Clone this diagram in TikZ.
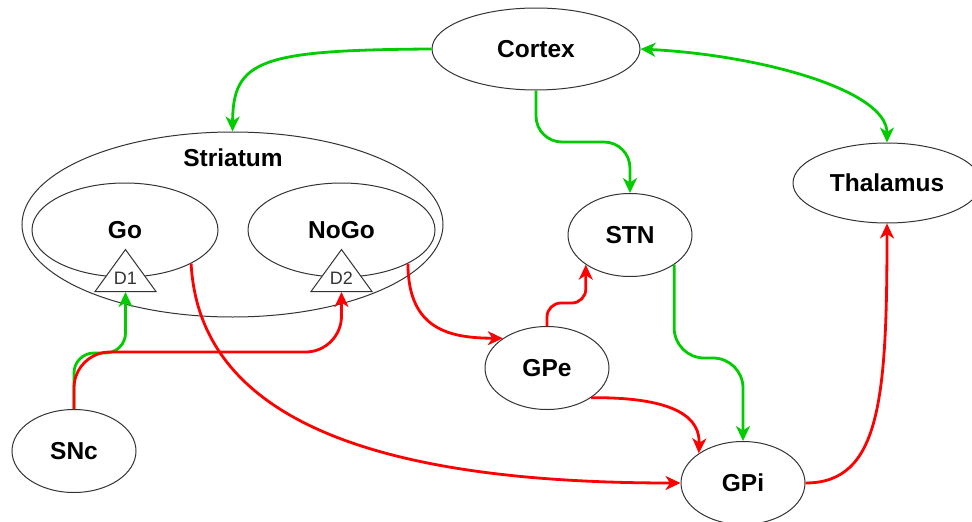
\documentclass[tikz,border=0pt]{standalone}
\usepackage{fontspec}
\setmainfont{Liberation Sans}
\usepackage{tikz}
\usetikzlibrary{arrows.meta, positioning, shapes.geometric}
\definecolor{cGreen}{HTML}{00CC00}
\definecolor{cRed}{HTML}{FF0000}
\definecolor{cLine}{HTML}{333333}

\begin{document}
\begin{tikzpicture}[
    x=1pt, y=-1pt,
    >={Stealth[length=15pt, width=14pt, inset=4.5pt]},
    area/.style={draw=cLine, line width=1pt, ellipse, inner sep=0pt,
                 minimum width=124pt, minimum height=83pt,
                 font=\bfseries\fontsize{24.5}{29}\selectfont},
    rcpt/.style={draw=cLine, line width=1pt, fill=white,
                 isosceles triangle, shape border rotate=90,
                 isosceles triangle stretches, isosceles triangle apex angle=72,
                 minimum width=61pt, minimum height=42pt, inner sep=0pt},
    rlbl/.style={font=\fontsize{18}{20}\selectfont, text=black!80, inner sep=0pt},
    exc/.style={->, draw=cGreen, line width=2.8pt},
    inh/.style={->, draw=cRed, line width=2.8pt},
  ]
  \useasboundingbox (0,0) rectangle (972,522);

  % ── REGIONS ──
  \node[area, minimum width=208pt, minimum height=82pt] (cortex) at (536,49) {Cortex};
  \node[area, minimum width=421pt, minimum height=185pt] (striatum) at (232.5,224.5) {};
  \node[font=\bfseries\fontsize{24.5}{29}\selectfont] (strlbl) at (233,158) {Striatum};
  \node[area, minimum width=186pt, minimum height=94pt] (go) at (125,230) {Go};
  \node[area, minimum width=187pt, minimum height=94pt] (nogo) at (341.5,230) {NoGo};
  \node[area, minimum width=188pt, minimum height=80pt] (thal) at (887,183) {Thalamus};
  \node[area] (stn) at (630,235) {STN};
  \node[area] (gpe) at (547,368) {GPe};
  \node[area] (gpi) at (743,483) {GPi};
  \node[area] (snc) at (74,451) {SNc};

  % ── RECEPTORS ──
  \node[rcpt] (d1) at (125.5,276) {};
  \node[rlbl] (d1lbl) at (125.5,278) {D1};
  \node[rcpt] (d2) at (341.5,276) {};
  \node[rlbl] (d2lbl) at (341.5,278) {D2};

  % ── CORTEX ──
  \draw[exc] (cortex.west) .. controls (260,50) and (233,60) .. (striatum.north);
  \draw[exc, rounded corners=26pt] (cortex.south) |- (stn.north |- 0,142) -- (stn.north);
  \draw[exc, <->] (cortex.east) .. controls (760,55) and (887,90) .. (thal.north);

  % ── STRIATUM ──
  \draw[inh] (go.south east) .. controls (200,430) and (400,483) .. (gpi.west);
  \draw[inh] (nogo.south east) .. controls (408,330) and (450,338) .. (gpe.north west);

  % ── DOPAMINE ──
  \draw[exc, rounded corners=20pt] (snc.north) |- (d1.lower side |- 0,353) -- (d1.lower side);
  \draw[inh, rounded corners=36pt] (snc.north) |- (d2.lower side |- 0,352) -- (d2.lower side);

  % ── GPe / STN / GPi ──
  \draw[inh, rounded corners=14pt] (gpe.north) |- (stn.south west |- 0,303) -- (stn.south west);
  \draw[inh] (gpe.south east) .. controls (680,397) and (700,420) .. (gpi.north west);
  \draw[exc, rounded corners=30pt] (stn.south east) |- (gpi.north |- 0,358) -- (gpi.north);
  \draw[inh] (gpi.east) .. controls (880,483) and (887,400) .. (thal.south);
\end{tikzpicture}
\end{document}
